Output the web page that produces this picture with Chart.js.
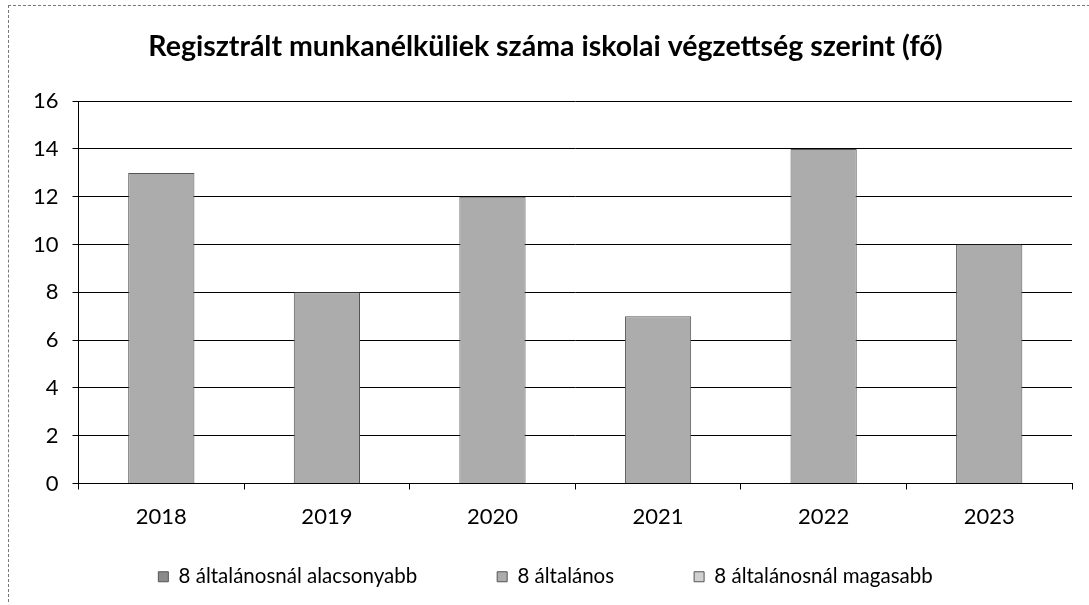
<!DOCTYPE html>
<html>
<head>
<meta charset="utf-8">
<script src="https://cdn.jsdelivr.net/npm/chart.js@4/dist/chart.umd.min.js"></script>
<style>
  html, body { margin: 0; padding: 0; background: #fff; }
  #keret { position: absolute; left: 8px; top: 5px; width: 1081px; height: 596px; border-left: 1px dashed #777; border-top: 1px dashed #777; }
  #doboz { position: absolute; left: 0; top: 0; width: 1089px; height: 605px; }
</style>
</head>
<body>
<div id="keret"></div>
<div id="doboz"><canvas id="grafikon"></canvas></div>
<script>
// Adatok
const evek = ['2018', '2019', '2020', '2021', '2022', '2023'];
const alacsonyabb = [0, 0, 0, 0, 0, 0];
const altalanos = [13, 8, 12, 7, 14, 10];
const magasabb = [0, 0, 0, 0, 0, 0];
const yTickek = [0, 2, 4, 6, 8, 10, 12, 14, 16];

const betu = "Lato, 'Open Sans', sans-serif";

// az x tengely feliratai a jelmagyarázat üres felső sávjába lógnak,
// ezért elrendezés után visszaadjuk a tengely valódi magasságát
const xTengelyNyujtas = {
  id: 'xTengelyNyujtas',
  afterLayout(chart) {
    const x = chart.scales.x;
    x.height = 50;
    x.bottom = x.top + 50;
  }
};

const ctx = document.getElementById('grafikon').getContext('2d');
new Chart(ctx, {
  type: 'bar',
  data: {
    labels: evek,
    datasets: [
      { label: '8 általánosnál alacsonyabb', data: alacsonyabb, backgroundColor: '#8a8a8a', borderColor: '#555', borderWidth: 1 },
      { label: '8 általános', data: altalanos, backgroundColor: '#acacac', borderColor: '#555', borderWidth: 1 },
      { label: '8 általánosnál magasabb', data: magasabb, backgroundColor: '#d0d0d0', borderColor: '#555', borderWidth: 1 }
    ]
  },
  plugins: [xTengelyNyujtas],
  options: {
    responsive: true,
    maintainAspectRatio: false,
    animation: false,
    layout: { padding: { left: 19, right: 17, top: 10, bottom: 8 } },
    datasets: { bar: { categoryPercentage: 0.8, barPercentage: 0.5 } },
    plugins: {
      title: {
        display: true,
        text: 'Regisztrált munkanélküliek száma iskolai végzettség szerint (fő)',
        color: '#000',
        font: { family: betu, size: 28.5, weight: 'bold' },
        padding: { top: 20, bottom: 37 }
      },
      legend: {
        position: 'bottom',
        labels: {
          color: '#000',
          font: { family: betu, size: 20.5 },
          boxWidth: 10,
          boxHeight: 10,
          padding: 80
        }
      },
      tooltip: { enabled: false }
    },
    scales: {
      x: {
        stacked: true,
        afterFit: (ax) => { ax.height = 3; },
        grid: { offset: true, drawOnChartArea: false, color: '#000', tickLength: 6 },
        border: { color: '#000' },
        ticks: { color: '#000', font: { family: betu, size: 22 }, padding: 14 }
      },
      y: {
        stacked: true,
        min: 0,
        max: 16,
        afterBuildTicks: (ax) => { ax.ticks = yTickek.map(v => ({ value: v })); },
        grid: { color: '#000', tickLength: 6 },
        border: { color: '#000' },
        ticks: { color: '#000', font: { family: betu, size: 22 }, padding: 14 }
      }
    }
  }
});
</script>
</body>
</html>
